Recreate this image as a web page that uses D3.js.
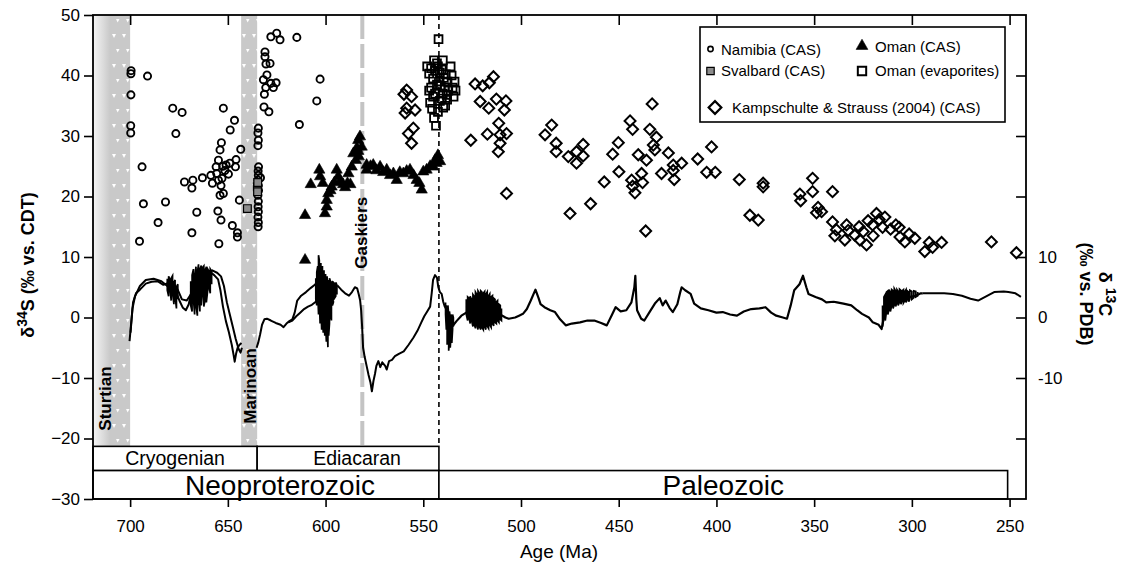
<!DOCTYPE html>
<html>
<head>
<meta charset="utf-8">
<script src="https://cdn.jsdelivr.net/npm/d3@7/dist/d3.min.js"></script>
<style>
body { margin: 0; background: #fff; }
svg { font-family: "Liberation Sans", Arial, Helvetica, sans-serif; }
</style>
</head>
<body>
<svg width="1130" height="562"></svg>
<script>

// sulfate d34S (age Ma, permil)
var namibia = [
    [699.5, 40.8], [699.6, 40.3], [691.1, 39.9], [699.6, 36.8], [699.7, 31.7], [699.7, 30.5],
    [693.9, 24.9], [693.2, 18.8], [695.2, 12.6], [678.2, 34.6], [673.4, 33.9], [676.6, 30.4],
    [681.9, 19.1], [685.7, 15.7], [672.2, 22.4], [667.9, 22.7], [668.4, 21.4], [663, 23.1],
    [658.7, 23.5], [657.9, 22.2], [655.7, 23.8], [654.8, 26.0], [654, 27.7], [653.3, 28.9],
    [652.3, 34.6], [648.8, 31.0], [646.6, 32.6], [643.4, 27.8], [645.8, 26.1], [646.1, 24.9],
    [649.7, 23.7], [652.6, 25.0], [650.9, 25.2], [654.8, 22.7], [653.5, 21.8], [652.3, 20.5],
    [654, 20.2], [665.9, 17.4], [668.4, 14.0], [655.1, 17.6], [653.5, 16.1], [647.7, 15.2],
    [645.1, 14.0], [645.1, 13.3], [654.6, 12.2], [644.1, 19.4], [651.5, 24.3], [649, 25.5],
    [656, 24.9], [653, 23.0],
    [634.4, 31.3], [634.6, 30.5], [634.4, 29.3], [634.6, 28.4], [634.3, 24.9], [634.5, 24.2],
    [634.4, 23.5], [633.3, 23.1], [634.6, 22.7], [634.4, 21.8], [634.3, 21.0], [634.6, 20.2],
    [634.4, 19.2], [634.5, 18.3], [634.4, 17.5], [634.6, 16.6], [634.4, 15.7], [634.5, 15.0],
    [631, 43.9], [631, 43.1], [630.5, 41.9], [628.4, 42.0], [630, 40.1], [631.8, 39.3],
    [628, 38.7], [625.3, 38.8], [626.7, 38.0], [630.6, 38.0], [631.3, 36.9], [631.5, 34.8],
    [629, 34.0], [628, 46.4], [625, 47.0], [623.3, 45.9], [614.7, 46.3], [613.4, 31.9],
    [602.8, 39.4], [604.5, 35.8]
];

var svalbard = [[640, 18.0], [634.9, 21.6], [634.8, 20.8], [634.7, 22.3]];

var omanCAS = [
    [610.5, 9.5], [610.5, 16.9], [607.6, 22.0], [603.2, 24.4], [602.8, 23.3], [601.4, 22.2],
    [599.4, 19.4], [599.4, 18.3], [600.3, 17.2], [598.6, 20.5], [596.9, 21.6], [594.3, 24.4],
    [593.5, 23.3], [592.5, 22.5], [591, 22], [590, 21.5], [588.8, 22.2], [587.3, 22.0],
    [595.5, 22.3], [597.5, 21.0], [588.3, 23.8], [586.6, 24.9], [583.3, 29.3], [583.3, 27.5],
    [582.4, 29.9], [584, 28.0], [585.8, 27.1], [581.5, 28.2], [583, 26.6], [584.5, 26.0],
    [579, 25.2], [579, 24.4], [577, 25.0], [575.6, 25.2], [574, 24.3], [572.1, 24.9],
    [570.5, 24.0], [568.7, 24.4], [567, 23.5], [565.3, 23.8], [563.6, 22.7], [562, 24.0],
    [560.2, 23.8], [558.5, 24.2], [556.8, 24.4], [555, 23.5], [553.4, 22.7], [552, 22.2],
    [550.8, 21.1], [550, 24.1], [548.3, 24.4], [546.5, 25.0], [544.9, 24.9], [543.2, 25.5],
    [541.4, 25.8], [542.5, 26.8], [544, 26.0]
];

var omanEvap = [
    [548, 41.5], [547, 40.3], [546, 41.2], [545, 39.5], [544, 40.8], [543, 42.0], [542.5, 41.5],
    [541.5, 40.5], [540.5, 41.0], [539.5, 39.6], [538.5, 40.2], [537.6, 39.0], [537.2, 37.5],
    [538, 36.8], [539, 38.0], [540, 37.0], [541, 38.3], [542, 39.0], [543, 38.5], [544, 37.0],
    [545, 36.5], [546, 38.0], [547, 37.5], [546.5, 35.5], [545.5, 34.5], [544.5, 33.0],
    [543.5, 31.7], [542.5, 34.0], [541.5, 35.8], [540.5, 36.2], [539.8, 34.7], [538.8, 35.0],
    [537.8, 36.0], [542.2, 46.0], [540, 42.5], [544.5, 42.5], [535.5, 40], [534, 39],
    [533.5, 37.5], [535, 38], [536, 41.5], [534.5, 36.5]
];

var kampschulte = [
    [558.5, 37.6], [559.9, 36.9], [556, 36.5], [558.5, 34.6], [554.2, 34.3], [559.3, 33.8],
    [555.1, 31.3], [557.6, 30.4], [556, 28.8],
    [523.5, 38.6], [519.6, 38.3], [516.2, 38.8], [514.1, 39.8], [520.9, 35.7], [516.5, 34.6],
    [512.6, 36.1], [507.7, 35.8], [508.5, 34.3], [511.4, 32.1], [507.4, 30.4], [510.7, 30.2],
    [517.2, 30.3], [525.7, 29.3], [510.7, 28.8], [511.6, 27.4], [507.4, 20.5],
    [484.3, 31.8], [487.7, 30.2], [482, 28.8], [482, 27.4], [475.8, 26.6], [471.6, 27.4],
    [468.2, 28.6], [471.6, 25.5], [468.2, 26.7], [474.9, 17.2], [464.4, 18.8], [457.4, 22.4],
    [453.1, 27.0], [450.2, 28.9], [449.9, 24.1], [444.2, 32.5], [442.9, 31.1], [443.4, 22.7],
    [442.9, 21.7], [441.7, 20.6], [438.3, 23.8], [437.8, 22.3], [440, 26.9], [435.8, 26.0],
    [436.2, 14.3], [432.9, 35.3], [434.1, 31.1], [430.7, 29.8], [432.3, 28.5], [431.5, 27.7],
    [428.1, 23.8], [424.6, 27.2], [422.1, 25.2], [422.1, 24.3], [421.6, 22.8], [417.8, 25.5],
    [409.6, 26.2], [402.5, 28.2], [405, 24.0], [400.6, 24.0], [388.3, 22.8],
    [376.1, 22.2], [376.1, 21.6], [382.9, 16.9], [378.6, 16.1], [350.8, 23.0], [350.8, 20.8],
    [357.3, 20.4], [356.9, 19.3], [340.6, 20.8], [348, 18.2], [346.2, 17.5], [348.8, 17.3],
    [340.6, 15.8], [338.6, 14.5], [339.4, 13.5], [333.4, 15.3], [332.6, 14.4], [334.3, 12.8],
    [329.2, 13.6], [327, 15.0], [324.9, 14.2], [323.2, 12.0], [326.6, 12.8], [322.4, 16.0],
    [320.1, 15.3], [319.8, 13.5], [318.1, 17.2], [316.7, 16.2], [315, 14.9], [313.8, 16.6],
    [310.9, 14.6], [308.2, 15.3], [306.5, 14.9], [306.1, 13.3], [303.6, 12.5], [301.4, 13.8],
    [298.5, 13.1], [293.4, 10.9], [291.1, 12.4], [289.4, 11.6], [284.8, 12.4], [259.3, 12.5],
    [246.5, 10.7]
];

// carbonate d13C curves (age Ma, permil)
var c13Cryo1 = [
    [700.3, -3.9], [699.5, -1], [698.5, 2.5], [697, 4], [695, 4.6], [692, 5.6], [689, 5.9],
    [686, 6.0], [683, 5.4], [680.5, 5.7], [678, 4.9], [676, 3.8], [674.5, 2.6], [673, 1.6],
    [671.5, 1.2], [670, 2.2], [668.5, 4.5], [667, 6.2], [665, 7.4], [663, 8.0], [661, 7.8],
    [659, 7.5], [657, 7.0], [655, 6.3], [653.8, 4.5], [652.5, 1.8], [651, -0.6], [649.5, -2.4],
    [648, -4.5], [647, -6.3], [646.5, -7.3], [645.8, -6], [645, -5], [644, -4.5], [643, -4.2]
];
var c13Cryo2 = [
    [699.8, -2.5], [698.8, 1.5], [697.5, 3.5], [695, 5.2], [692, 6.2], [688, 6.4], [684, 6.0],
    [681, 5.2], [678, 5.8], [675.5, 4.5], [673.5, 3.0], [671, 2.8], [669, 3.8], [667, 5.5],
    [664, 6.8], [661, 7.0], [658, 7.8], [655.5, 7.4], [653.5, 6.8], [652, 5.2], [650.5, 2.5],
    [649, 0.5], [647.5, -1.5], [646, -3.5], [644.5, -5.2], [643.5, -5.8], [642.8, -5.0]
];
var c13Edi1 = [
    [635.3, -5], [634.5, -4.2], [633.5, -2.8], [632.5, -1.2], [631.3, -0.3], [630, -0.2],
    [628, -0.5], [625.5, -0.9], [623, -1.2], [621.5, -1.6], [620, -1.0], [618.5, -0.6],
    [617, -0.3], [615.8, 0.8], [614.5, 2.8], [612.5, 3.6], [610, 4.2], [607.5, 4.9],
    [605.5, 5.4], [604, 6]
];
var c13Edi2 = [
    [619, -0.8], [617, -0.5], [615, 0.2], [613, 0.8], [611, 1.4], [609, 1.8], [607, 2.1],
    [605, 2.6], [603.5, 3.5]
];
var c13Edi3 = [
    [594, 5.3], [592, 4.6], [590, 4.0], [588, 3.6], [586.5, 4.2], [585, 5.0], [583.8, 4.8],
    [583, 3.8], [582.3, 2.8], [581.8, 1.2], [581.3, -1.5], [580.8, -5], [580, -6.5], [579, -8],
    [578, -9.5], [577, -10.8], [576.3, -12.2], [575.5, -10.5], [574.7, -9.3], [574, -8],
    [573, -7.2], [572, -8.2], [571, -7.4], [569.5, -8.0], [568.7, -8.6], [567.5, -7.2],
    [566, -7.0], [564.5, -6.4], [562.5, -6.0], [560, -5.6], [557.5, -4.5], [555, -3.3],
    [553, -2.2], [551, -0.8], [549.5, 0.2], [548, 1.0], [546.5, 1.8], [545.7, 4.0], [545, 6.2],
    [544, 7.0], [543, 6.6], [542.3, 5.0], [541.5, 4.2], [540.6, 3.9], [539.8, 2.6], [539, 1.8],
    [538.3, 1.4]
];
var c13Pal = [
    [535, -1.4], [533, -0.6], [530.5, 0.3], [528, 0.8], [525, 1.1], [522.7, 1.3], [520, 1.5],
    [517, 1.6], [514.3, 1.6], [512, 1.0], [510, 0.4], [508, 0], [506.3, -0.2], [503, 0],
    [501, 0.3], [499, 0.6], [497, 1.4], [495, 2.8], [492.6, 4.6], [491, 3.2], [490, 2.2],
    [488, 1.7], [485, 1.2], [482.6, 0.9], [480, -0.3], [477.1, -1.3], [474, -1.0], [469.8, -0.8],
    [466, -0.5], [462.5, -0.5], [459, -0.9], [456.1, -1.3], [453.5, 0.4], [451.6, 1.7],
    [449, 1.0], [446.1, 1.2], [443.5, 2.5], [442, 5], [441.5, 6.9], [441, 3], [440.6, 1.2],
    [438.5, -0.2], [436.9, -0.5], [434, 1.0], [431.5, 2.3], [429, 3.2], [427.5, 2.0], [426, 2.8],
    [424, 1.6], [422.3, 0.9], [420, 2.2], [418.5, 4.2], [417.8, 5.0], [416, 4.5], [413.2, 3.9],
    [411.4, 2.3], [408, 1.5], [404.1, 1.2], [400, 0.8], [396.8, 0.9], [393, 0.5], [389.5, 0.3],
    [386, 1.0], [382.2, 1.4], [378, 1.5], [374.9, 1.7], [372, 0.8], [369.4, 0.3], [366, 0],
    [363.9, -0.2], [362, 2], [360.2, 4.5], [357.5, 5.5], [355.7, 6.9], [354, 5], [352.9, 3.9],
    [349.3, 3.4], [346, 3], [343.8, 2.5], [340, 2.6], [338.3, 2.5], [335, 2.3], [331, 2.0],
    [328, 1.2], [325.5, 0.6], [322, 0], [320, -0.8], [317, -1.2], [315.5, -1.9], [314, 0.5],
    [312.8, 2.8], [309, 3], [305.5, 3.1], [301, 3.4], [298.1, 3.6], [295.4, 4.0], [294.4, 4.0]
];
var c13Perm = [
    [294.4, 4.0], [290, 4.0], [283.5, 4.0], [279, 3.9], [274.4, 3.6], [270, 3.1], [266.1, 2.8],
    [262, 3.5], [257.9, 4.2], [253, 4.3], [250.6, 4.2], [247, 4.0], [244.2, 3.4]
];
// dense scatter in the d13C records: [age, low, high]
var c13Spread = [
    [[681, 4.5, 6.4], [680.3, 3.5, 6.8], [679.6, 4.8, 6.2], [679, 2.8, 6.5], [678.3, 4, 6.9],
     [677.6, 2.2, 5.8], [677, 3.5, 6.2], [676.3, 1.5, 5], [675.6, 3, 5.5]],
    [[669, 2, 6], [668.3, 1, 7], [667.6, 3, 8], [667, 0.5, 6.5], [666.3, 2, 8.4], [665.6, 0.3, 7.5],
     [665, 3, 8.8], [664.3, 1, 8], [663.6, 2, 8.6], [663, 4, 8.2], [662.3, 1.8, 8.5],
     [661.6, 3, 7.8], [661, 2.5, 8.4], [660.3, 4.5, 8], [659.6, 5, 7.6], [659, 4, 8],
     [658.3, 5.5, 7.6]],
    [[605, 3, 6.5], [604.5, 2, 7.5], [604, 4, 8.5], [603.6, 0.5, 10.3], [603.2, 3, 9.5],
     [602.8, -1, 8.2], [602.4, 2, 9], [602, -2, 7.5], [601.6, 1, 8.5], [601.2, -2.5, 7],
     [600.8, 0.5, 7.8], [600.4, -3, 6.5], [600, -1, 7.2], [599.6, -4, 6], [599.2, -2, 6.8],
     [598.8, -4.9, 6.2], [598.4, -3, 5.5], [598, -1, 6.5], [597.5, 1, 6], [597, -0.5, 5.5],
     [596.5, 2, 6], [596, 2.5, 5.8], [595.4, 3.2, 5.6], [594.8, 3.5, 5.8], [594.2, 3.8, 5.4]],
    [[538.6, 0.5, 2.5], [538.2, -2, 2], [537.8, -4.5, 1.5], [537.4, -3, 2], [537, -5.5, 0.5],
     [536.6, -4, 1], [536.2, -5, 0], [535.8, -3, 0.5], [535.4, -4.2, -0.5], [535, -2, 0.5],
     [534.6, -1.5, 0]],
    [[528, 0.5, 3], [527.3, -0.5, 3.4], [526.6, 0, 3.2], [526, -1, 3.5], [525.3, -0.5, 3],
     [524.6, -1.5, 3.8], [524, -1, 3.5], [523.3, -1.8, 4.2], [522.6, -1.2, 3.8], [522, -2, 4.4],
     [521.3, -1.5, 4], [520.6, -2, 4.4], [520, -1.6, 4.2], [519.3, -2, 4], [518.6, -1.5, 4.3],
     [518, -2, 3.8], [517.3, -1.4, 4.2], [516.6, -1.8, 3.6], [516, -1.2, 3.9], [515.3, -1.6, 3.4],
     [514.6, -1, 3.6], [514, -1.4, 3.2], [513.3, -0.8, 3], [512.6, -1, 2.6], [512, -0.5, 2.8],
     [511.3, -0.8, 2.2], [510.6, -0.3, 2], [510, -0.5, 1.5]],
    [[315, -1.5, 2], [314.3, 0.2, 3.4], [313.6, -0.5, 3.8], [313, 1, 4.2], [312.3, 0.5, 4.4],
     [311.6, 1.5, 4.6], [311, 1, 4.2], [310.3, 2, 4.6], [309.6, 1.5, 4.4], [309, 2.2, 4.8],
     [308.3, 1.8, 4.4], [307.6, 2.5, 4.6], [307, 2, 4.3], [306.3, 2.6, 4.7], [305.6, 2.2, 4.5],
     [305, 2.8, 4.4], [304.3, 2.4, 4.6], [303.6, 2.8, 4.3], [303, 2.5, 4.6], [302.3, 3, 4.4],
     [301.6, 2.6, 4.2], [301, 3.1, 4.5], [300, 3, 4.3], [299, 3.3, 4.4], [298, 3.4, 4.3],
     [297, 3.6, 4.2]]
];

var ageTicks = [700, 650, 600, 550, 500, 450, 400, 350, 300, 250];
var s34Ticks = [-30, -20, -10, 0, 10, 20, 30, 40, 50];
var c13Ticks = [-20, -10, 0, 10, 20, 30, 40];
var c13Labels = [-10, 0, 10];

var glaciations = [
    { name: "Sturtian", fade: 719, start: 710.3, end: 700 },
    { name: "Marinoan", fade: 643.2, start: 643.2, end: 635 }
];
var gaskiers = 581.2;
var pcBoundary = 542;

var periods = [
    { name: "Cryogenian", start: 719, end: 635 },
    { name: "Ediacaran", start: 635, end: 542 }
];
var eras = [
    { name: "Neoproterozoic", start: 719, end: 542 },
    { name: "Paleozoic", start: 542, end: 251 }
];

var legendItems = ["Namibia (CAS)", "Svalbard (CAS)", "Oman (CAS)", "Oman (evaporites)",
    "Kampschulte & Strauss (2004) (CAS)"];


var plotL = 93, plotR = 1026, plotT = 15, plotB = 499;

var x = d3.scaleLinear().domain([719, 241.6]).range([plotL, plotR]);
var y = d3.scaleLinear().domain([-30, 50]).range([plotB, plotT]);
var y2 = d3.scaleLinear().domain([-30, 50]).range([plotB, plotT]);

var svg = d3.select("svg");
var defs = svg.append("defs");

var grad = defs.append("linearGradient").attr("id", "fade");
grad.append("stop").attr("offset", "0%").attr("stop-color", "#f6f6f6");
grad.append("stop").attr("offset", "100%").attr("stop-color", "#c9c9c9");

var ice = defs.append("pattern")
    .attr("id", "ice")
    .attr("patternUnits", "userSpaceOnUse")
    .attr("width", 10)
    .attr("height", 30);
ice.append("rect").attr("width", 10).attr("height", 30).attr("fill", "#c9c9c9");
ice.append("path").attr("d", "M2,4L6,4L4,8Z").attr("fill", "#fff");
ice.append("path").attr("d", "M6,19L9.5,19L7.7,22.5Z").attr("fill", "#fff");

var rowTop = -21.3, rowMid = -25.3;

// glacial intervals
var gl = svg.append("g");
gl.selectAll(".fade")
    .data(glaciations.filter(function (d) { return d.fade > d.start; }))
    .join("rect")
    .attr("x", function (d) { return x(d.fade); })
    .attr("width", function (d) { return x(d.start) - x(d.fade); })
    .attr("y", y(50))
    .attr("height", y(rowTop) - y(50))
    .attr("fill", "url(#fade)");
gl.selectAll(".band")
    .data(glaciations)
    .join("rect")
    .attr("x", function (d) { return x(d.start); })
    .attr("width", function (d) { return x(d.end) - x(d.start); })
    .attr("y", y(50))
    .attr("height", y(rowTop) - y(50))
    .attr("fill", "url(#ice)");

gl.append("line")
    .attr("x1", x(gaskiers)).attr("x2", x(gaskiers))
    .attr("y1", y(50)).attr("y2", y(rowTop))
    .attr("stroke", "#c4c4c4")
    .attr("stroke-width", 4)
    .attr("stroke-dasharray", "24,5");

svg.append("line")
    .attr("x1", x(pcBoundary)).attr("x2", x(pcBoundary))
    .attr("y1", y(50)).attr("y2", y(rowTop))
    .attr("stroke", "#000")
    .attr("stroke-width", 1.6)
    .attr("stroke-dasharray", "5,4");

// d13C
var line = d3.line()
    .x(function (d) { return x(d[0]); })
    .y(function (d) { return y2(d[1]); });

// scatter drawn as a tight zigzag between the low and high values
function zigzag(seg) {
    var pts = [];
    seg.forEach(function (d, i) {
        if (i % 2) {
            pts.push([d[0], d[1]], [d[0], d[2]]);
        } else {
            pts.push([d[0], d[2]], [d[0], d[1]]);
        }
    });
    return line(pts);
}

var cg = svg.append("g");
cg.selectAll(".spread")
    .data(c13Spread)
    .join("path")
    .attr("d", zigzag)
    .attr("fill", "none")
    .attr("stroke", "#000")
    .attr("stroke-width", 1.7);
cg.selectAll(".c13")
    .data([c13Cryo1, c13Cryo2, c13Edi1, c13Edi2, c13Edi3, c13Perm])
    .join("path")
    .attr("d", line)
    .attr("fill", "none")
    .attr("stroke", "#000")
    .attr("stroke-width", 2)
    .attr("stroke-linejoin", "round");
cg.append("path")
    .attr("d", line(c13Pal))
    .attr("fill", "none")
    .attr("stroke", "#000")
    .attr("stroke-width", 2.2)
    .attr("stroke-linejoin", "round");

// d34S points
function drawSymbols(data, type, size, fill, rot, sw) {
    svg.append("g")
        .selectAll("path")
        .data(data)
        .join("path")
        .attr("d", d3.symbol().type(type).size(size))
        .attr("transform", function (d) {
            return "translate(" + x(d[0]) + "," + y(d[1]) + ")" + (rot ? " rotate(45)" : "");
        })
        .attr("fill", fill)
        .attr("stroke", "#000")
        .attr("stroke-width", sw);
}

drawSymbols(namibia, d3.symbolCircle, 40, "none", false, 1.9);
drawSymbols(svalbard, d3.symbolSquare, 60, "#8c8c8c", false, 1.2);
drawSymbols(omanCAS, d3.symbolTriangle, 55, "#000", false, 0.6);
drawSymbols(omanEvap, d3.symbolSquare, 62, "none", false, 1.8);
drawSymbols(kampschulte, d3.symbolSquare, 60, "none", true, 2);

// glaciation labels
var glab = svg.append("g")
    .style("font-size", "17px")
    .style("font-weight", "bold");
glab.append("text")
    .attr("transform", "translate(" + (x(710.3) + 1) + "," + y(-13.4) + ") rotate(-90)")
    .attr("text-anchor", "middle")
    .text("Sturtian");
glab.append("text")
    .attr("transform", "translate(" + (x(635) - 1) + "," + y(-11.3) + ") rotate(-90)")
    .attr("text-anchor", "middle")
    .text("Marinoan");
glab.append("text")
    .attr("transform", "translate(" + (x(gaskiers) + 5) + "," + y(14) + ") rotate(-90)")
    .attr("text-anchor", "middle")
    .text("Gaskiers");

// time scale boxes
var ts = svg.append("g")
    .attr("fill", "none")
    .attr("stroke", "#000")
    .attr("stroke-width", 1.6);
ts.selectAll(".period")
    .data(periods)
    .join("rect")
    .attr("x", function (d) { return x(d.start); })
    .attr("width", function (d) { return x(d.end) - x(d.start); })
    .attr("y", y(rowTop))
    .attr("height", y(rowMid) - y(rowTop))
    .attr("fill", "#fff");
ts.selectAll(".era")
    .data(eras)
    .join("rect")
    .attr("x", function (d) { return x(d.start); })
    .attr("width", function (d) { return x(d.end) - x(d.start); })
    .attr("y", y(rowMid))
    .attr("height", y(-30) - y(rowMid))
    .attr("fill", "#fff");

// label nudges, as placed in the original figure
var nudge = { Ediacaran: 9, Neoproterozoic: 14 };

svg.append("g")
    .selectAll("text")
    .data(periods)
    .join("text")
    .attr("x", function (d) { return (x(d.start) + x(d.end)) / 2 + (nudge[d.name] || 0); })
    .attr("y", (y(rowTop) + y(rowMid)) / 2)
    .attr("dy", "0.36em")
    .attr("text-anchor", "middle")
    .style("font-size", "19.5px")
    .text(function (d) { return d.name; });
svg.append("g")
    .selectAll("text")
    .data(eras)
    .join("text")
    .attr("x", function (d) { return (x(d.start) + x(d.end)) / 2 + (nudge[d.name] || 0); })
    .attr("y", (y(rowMid) + y(-30)) / 2)
    .attr("dy", "0.36em")
    .attr("text-anchor", "middle")
    .style("font-size", "28px")
    .text(function (d) { return d.name; });

// axes
var yAxis = d3.axisLeft(y).tickValues(s34Ticks).tickSize(9).tickPadding(4);
var xAxis = d3.axisBottom(x).tickValues(ageTicks).tickSize(8).tickPadding(13);
var xTop = d3.axisTop(x).tickValues(ageTicks).tickSize(-10).tickFormat("");
var y2Axis = d3.axisRight(y2).tickValues(c13Ticks).tickSize(-10).tickPadding(12)
    .tickFormat(function (d) { return c13Labels.indexOf(d) >= 0 ? d : ""; });

function styleAxis(g) {
    g.select(".domain").remove();
    g.selectAll("line").attr("stroke", "#000").attr("stroke-width", 1.6);
    g.selectAll("text").style("font-size", "17px").attr("fill", "#000");
    g.attr("font-family", null);
}

svg.append("g").attr("transform", "translate(" + plotL + ",0)").call(yAxis).call(styleAxis);
svg.append("g").attr("transform", "translate(0," + plotB + ")").call(xAxis).call(styleAxis);
svg.append("g").attr("transform", "translate(0," + plotT + ")").call(xTop).call(styleAxis);
svg.append("g").attr("transform", "translate(" + plotR + ",0)").call(y2Axis).call(styleAxis);

svg.append("rect")
    .attr("x", plotL)
    .attr("y", plotT)
    .attr("width", plotR - plotL)
    .attr("height", plotB - plotT)
    .attr("fill", "none")
    .attr("stroke", "#000")
    .attr("stroke-width", 1.8);

// axis titles
svg.append("text")
    .attr("x", 559)
    .attr("y", 558)
    .attr("text-anchor", "middle")
    .style("font-size", "19px")
    .text("Age (Ma)");

var yl = svg.append("text")
    .attr("transform", "translate(34,265) rotate(-90)")
    .attr("text-anchor", "middle")
    .style("font-size", "18px")
    .style("font-weight", "bold");
yl.append("tspan").text("\u03b4");
yl.append("tspan").attr("dy", -7).style("font-size", "14px").text("34");
yl.append("tspan").attr("dy", 7).text("S (\u2030 vs. CDT)");

var yr = svg.append("g")
    .attr("transform", "translate(1099,294) rotate(90)")
    .style("font-size", "18px")
    .style("font-weight", "bold")
    .attr("text-anchor", "middle");
var yr1 = yr.append("text");
yr1.append("tspan").text("\u03b4 ");
yr1.append("tspan").attr("dy", -7).style("font-size", "14px").text("13");
yr1.append("tspan").attr("dy", 7).text("C");
yr.append("text").attr("y", 19).text("(\u2030 vs. PDB)");

// legend
var lg = svg.append("g");
lg.append("rect")
    .attr("x", 700).attr("y", 27)
    .attr("width", 305).attr("height", 95)
    .attr("fill", "#fff")
    .attr("stroke", "#000")
    .attr("stroke-width", 1.6);

var legendSyms = [
    { type: d3.symbolCircle, size: 22, fill: "none", sw: 1.6, rot: false, sx: 710.5, sy: 49, tx: 721, ty: 50 },
    { type: d3.symbolSquare, size: 55, fill: "#8c8c8c", sw: 1.2, rot: false, sx: 710.5, sy: 71, tx: 721, ty: 71 },
    { type: d3.symbolTriangle, size: 60, fill: "#000", sw: 0.6, rot: false, sx: 862, sy: 46, tx: 875, ty: 47 },
    { type: d3.symbolSquare, size: 70, fill: "none", sw: 2, rot: false, sx: 862, sy: 71, tx: 875, ty: 71 },
    { type: d3.symbolSquare, size: 80, fill: "none", sw: 2.2, rot: true, sx: 715, sy: 107.5, tx: 732, ty: 107.5 }
];

lg.selectAll("path")
    .data(legendSyms)
    .join("path")
    .attr("d", function (d) { return d3.symbol().type(d.type).size(d.size)(); })
    .attr("transform", function (d) { return "translate(" + d.sx + "," + d.sy + ")" + (d.rot ? " rotate(45)" : ""); })
    .attr("fill", function (d) { return d.fill; })
    .attr("stroke", "#000")
    .attr("stroke-width", function (d) { return d.sw; });

lg.selectAll("text")
    .data(legendSyms)
    .join("text")
    .attr("x", function (d) { return d.tx; })
    .attr("y", function (d) { return d.ty; })
    .attr("dy", "0.36em")
    .style("font-size", "15px")
    .text(function (d, i) { return legendItems[i]; });

</script>
</body>
</html>
